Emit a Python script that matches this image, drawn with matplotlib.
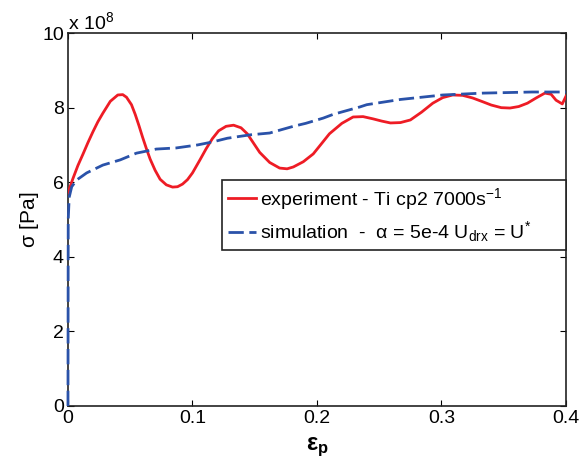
import matplotlib
matplotlib.use("Agg")
import matplotlib.pyplot as plt

plt.rcParams['font.family'] = ['Liberation Sans', 'DejaVu Sans']
plt.rcParams['mathtext.fontset'] = 'custom'
plt.rcParams['mathtext.rm'] = 'Liberation Sans'
plt.rcParams['mathtext.it'] = 'Liberation Sans:italic'
plt.rcParams['mathtext.bf'] = 'Liberation Sans:bold'

# experimental stress-strain curve (stress in units of 1e8 Pa)
exp_strain = [0.0, 0.004, 0.008, 0.012, 0.016, 0.020, 0.024, 0.028, 0.034, 0.040,
              0.044, 0.047, 0.051, 0.054, 0.057, 0.060, 0.063, 0.066, 0.070, 0.074,
              0.079, 0.084, 0.088, 0.092, 0.096, 0.100, 0.106, 0.111, 0.116, 0.121,
              0.127, 0.133, 0.139, 0.144, 0.149, 0.154, 0.162, 0.170, 0.176,
              0.181, 0.189, 0.197, 0.204, 0.210, 0.220, 0.229, 0.237, 0.245, 0.252,
              0.259, 0.267, 0.275, 0.284, 0.293, 0.301, 0.309, 0.317, 0.325, 0.333,
              0.340, 0.348, 0.355, 0.362, 0.369, 0.376, 0.383, 0.388, 0.392, 0.397,
              0.400]
exp_stress = [5.72, 6.10, 6.45, 6.75, 7.06, 7.35, 7.62, 7.85, 8.17, 8.34,
              8.35, 8.28, 8.08, 7.82, 7.52, 7.20, 6.90, 6.62, 6.32, 6.08,
              5.93, 5.87, 5.88, 5.95, 6.07, 6.25, 6.60, 6.90, 7.17, 7.38,
              7.50, 7.53, 7.46, 7.30, 7.05, 6.80, 6.53, 6.38, 6.36,
              6.41, 6.55, 6.76, 7.05, 7.30, 7.58, 7.75, 7.76, 7.70, 7.64,
              7.59, 7.60, 7.67, 7.88, 8.12, 8.27, 8.34, 8.33, 8.26, 8.16,
              8.07, 8.00, 7.99, 8.03, 8.12, 8.26, 8.39, 8.36, 8.20, 8.10,
              8.31]

# simulated curve, alpha = 5e-4
sim_strain = [0.0, 0.0002, 0.001, 0.003, 0.007, 0.015, 0.028, 0.042, 0.055,
              0.071, 0.087, 0.104, 0.116, 0.128, 0.146, 0.162, 0.181, 0.191,
              0.205, 0.213, 0.2345, 0.240, 0.267, 0.301, 0.333, 0.373, 0.400]
sim_stress = [0.0, 5.0, 5.6, 5.88, 6.06, 6.25, 6.46, 6.60, 6.78,
              6.89, 6.92, 7.00, 7.08, 7.18, 7.27, 7.32, 7.50, 7.58,
              7.72, 7.82, 8.02, 8.08, 8.22, 8.34, 8.39, 8.42, 8.42]

x_ticks = [0, 0.1, 0.2, 0.3, 0.4]
x_tick_labels = ['0', '0.1', '0.2', '0.3', '0.4']
y_ticks = [0, 2, 4, 6, 8, 10]

fig = plt.figure(figsize=(5.88, 4.66), dpi=100)
ax = fig.add_axes([0.1156, 0.1288, 0.847, 0.8002])

ax.plot(exp_strain, exp_stress, color='#ee1c25', lw=2.0, zorder=3,
        label='experiment - Ti cp2 7000s$^{-1}$')
line, = ax.plot(sim_strain, sim_stress, color='#2a52a9', lw=2.0, linestyle='--',
                zorder=4, clip_on=False,
                label=r'simulation  -  $\mathregular{\alpha}$ = 5e-4 U$_{\mathregular{drx}}$ = U$^{*}$')
line.set_dashes((5.5, 2.0))

ax.set_xlim(0, 0.4)
ax.set_ylim(0, 10)
ax.set_xticks(x_ticks)
ax.set_xticklabels(x_tick_labels)
ax.set_yticks(y_ticks)
ax.set_yticklabels([str(v) for v in y_ticks])
ax.tick_params(direction='in', length=4, width=0.8, top=True, right=True,
               labelsize=14, pad=3)
for s in ax.spines.values():
    s.set_linewidth(1.2)
    s.set_color('#222222')

ax.text(0.0, 1.0, r'x 10$^{8}$', transform=ax.transAxes, ha='left', va='bottom',
        fontsize=14)

ax.set_ylabel(r'$\mathregular{\sigma}$ [Pa]', fontsize=15, labelpad=1)
ax.set_xlabel('ε$_\\mathbf{p}$', fontsize=17, fontweight='bold', labelpad=6)

# legend box stretched to the right edge of the axes
leg = ax.legend(loc='upper left', bbox_to_anchor=(0.309, 0.413, 0.691, 0.193),
                mode='expand', borderaxespad=0,
                fancybox=False, edgecolor='#222222', framealpha=1, fontsize=14,
                handlelength=1.45, handletextpad=0.2, borderpad=0.3,
                labelspacing=0.4)
leg.get_frame().set_linewidth(1.2)

fig.savefig('out.png', dpi=100)
